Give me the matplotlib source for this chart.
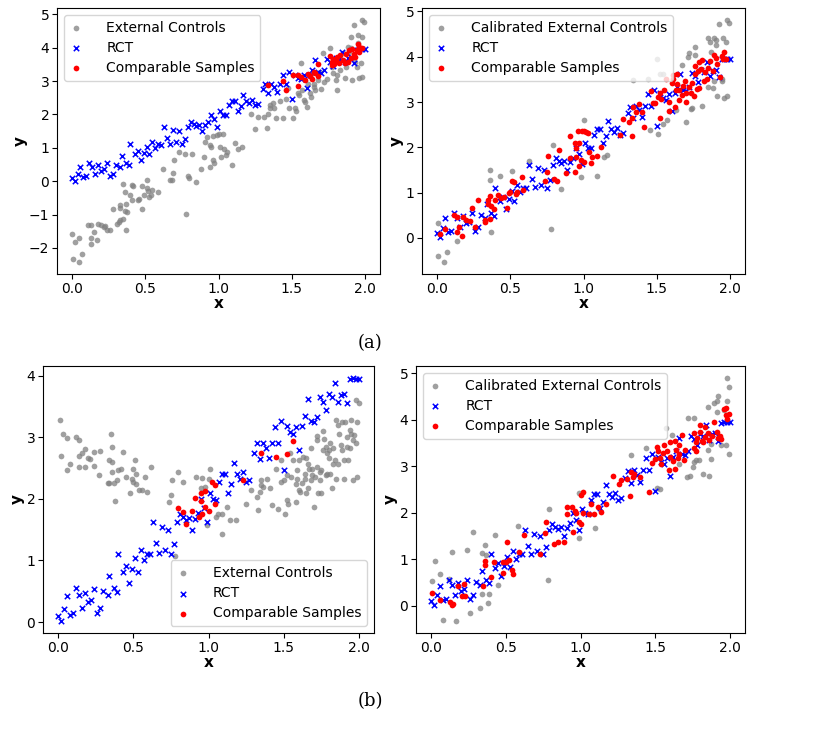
import matplotlib
matplotlib.use("Agg")
import matplotlib.pyplot as plt

# RCT samples (same in every panel)
rct_x = [0.00, 0.02, 0.04, 0.06, 0.08, 0.10, 0.12, 0.14, 0.16, 0.18, 0.20, 0.22, 0.24, 0.26, 0.28,
         0.30, 0.33, 0.34, 0.37, 0.39, 0.40, 0.43, 0.45, 0.47, 0.49, 0.51, 0.53, 0.55, 0.57, 0.59,
         0.61, 0.63, 0.65, 0.67, 0.69, 0.71, 0.73, 0.75, 0.77, 0.79, 0.81, 0.83, 0.85, 0.87, 0.89,
         0.91, 0.93, 0.95, 0.97, 0.99, 1.01, 1.03, 1.05, 1.07, 1.09, 1.11, 1.13, 1.15, 1.17, 1.19,
         1.21, 1.23, 1.25, 1.27, 1.30, 1.32, 1.34, 1.36, 1.38, 1.40, 1.42, 1.44, 1.46, 1.48, 1.50,
         1.52, 1.54, 1.56, 1.58, 1.60, 1.62, 1.64, 1.66, 1.68, 1.70, 1.72, 1.74, 1.76, 1.78, 1.80,
         1.82, 1.84, 1.86, 1.88, 1.90, 1.92, 1.94, 1.96, 1.98, 2.00]
rct_y = [0.10, 0.02, 0.22, 0.43, 0.12, 0.15, 0.56, 0.44, 0.23, 0.48, 0.32, 0.36, 0.54, 0.15, 0.23,
         0.50, 0.44, 0.75, 0.55, 0.49, 1.11, 0.81, 0.91, 0.64, 0.86, 1.04, 0.82, 1.17, 1.01, 1.11,
         1.10, 1.62, 1.29, 1.12, 1.54, 1.17, 1.50, 1.11, 1.27, 1.62, 1.76, 1.70, 1.66, 1.69, 1.49,
         1.67, 1.77, 1.99, 1.85, 1.63, 2.09, 1.99, 1.98, 2.27, 2.40, 2.41, 2.10, 2.24, 2.59, 2.40,
         2.33, 2.43, 2.28, 2.31, 2.75, 2.90, 2.65, 2.91, 2.82, 2.66, 2.91, 3.17, 2.91, 3.26, 2.47,
         3.19, 3.09, 3.05, 3.17, 2.80, 3.19, 3.34, 3.62, 3.26, 3.24, 3.33, 3.65, 3.58, 3.45, 3.70,
         3.66, 3.88, 3.57, 3.69, 3.71, 3.55, 3.94, 3.96, 3.95, 3.95]

# (a) left: external controls
ext_a_x = [0.00, 0.02, 0.01, 0.05, 0.05, 0.07, 0.11, 0.13, 0.13, 0.13, 0.15, 0.17, 0.18, 0.20, 0.22,
           0.23, 0.24, 0.26, 0.28, 0.31, 0.32, 0.33, 0.33, 0.33, 0.35, 0.35, 0.36, 0.36, 0.37, 0.37,
           0.38, 0.40, 0.41, 0.41, 0.42, 0.45, 0.46, 0.48, 0.48, 0.49, 0.51, 0.51, 0.52, 0.53, 0.54,
           0.55, 0.59, 0.62, 0.67, 0.68, 0.69, 0.70, 0.73, 0.77, 0.79, 0.80, 0.82, 0.85, 0.78, 0.88,
           0.90, 0.91, 0.92, 0.94, 0.94, 0.95, 0.96, 0.97, 0.99, 1.00, 0.96, 1.01, 1.02, 1.03, 1.04,
           1.05, 1.06, 1.09, 1.11, 1.13, 1.16, 1.22, 1.25, 1.27, 1.31, 1.33, 1.34, 1.35, 1.35, 1.37,
           1.38, 1.39, 1.42, 1.44, 1.46, 1.47, 1.48, 1.51, 1.52, 1.53, 1.54, 1.55, 1.56, 1.57, 1.58,
           1.59, 1.60, 1.61, 1.62, 1.63, 1.64, 1.65, 1.65, 1.66, 1.68, 1.69, 1.70, 1.71, 1.72, 1.74,
           1.76, 1.77, 1.78, 1.79, 1.80, 1.81, 1.81, 1.82, 1.83, 1.85, 1.86, 1.87, 1.88, 1.89, 1.90,
           1.90, 1.91, 1.92, 1.93, 1.94, 1.95, 1.95, 1.96, 1.97, 1.98, 1.98, 1.98, 1.99]
ext_a_y = [-1.59, -1.82, -2.32, -1.69, -2.42, -2.17, -1.32, -1.32, -1.69, -1.87, -1.52, -1.75, -1.29,
           -1.32, -1.37, -1.34, -1.47, -1.45, -0.82, -1.27, -1.22, -0.72, -1.17, -0.79, -1.12, -0.07,
           -0.32, -0.90, -0.67, -1.45, -0.92, -0.41, -0.12, -0.57, -0.14, -0.57, -0.53, -0.82, -0.15,
           -0.42, 0.04, -0.20, -0.29, -0.47, -0.42, -0.25, -0.32, 0.38, 0.05, 0.03, 0.25, 0.63, 0.89,
           0.83, 0.17, 0.11, 0.81, -0.02, -0.97, 0.38, 0.73, 1.19, 1.33, 1.08, 0.43, 1.03, 0.63, 0.55,
           1.39, 1.41, 1.35, 1.03, 0.73, 1.41, 0.98, 0.78, 0.88, 0.50, 1.15, 0.98, 1.03, 2.01, 1.56,
           1.91, 1.91, 1.58, 2.01, 2.28, 2.18, 2.33, 2.18, 1.88, 2.41, 1.88, 2.46, 2.78, 2.18, 1.88,
           2.18, 2.10, 2.63, 2.58, 3.53, 2.73, 2.43, 2.38, 2.23, 2.90, 2.63, 2.53, 3.23, 2.83, 2.91,
           2.73, 3.03, 3.28, 2.76, 3.83, 2.98, 3.05, 3.98, 3.43, 3.23, 3.63, 3.03, 3.18, 2.73, 3.63,
           3.33, 3.83, 3.08, 3.43, 4.03, 3.88, 4.33, 3.98, 3.03, 4.68, 3.58, 3.43, 4.13, 4.38, 3.08,
           3.53, 4.33, 3.13, 4.83, 4.78]
comp_a_x = [1.34, 1.44, 1.46, 1.51, 1.54, 1.54, 1.56, 1.59, 1.61, 1.62, 1.64, 1.65, 1.66, 1.68, 1.68,
            1.76, 1.77, 1.77, 1.78, 1.79, 1.80, 1.81, 1.82, 1.83, 1.85, 1.86, 1.87, 1.88, 1.89, 1.90,
            1.91, 1.92, 1.93, 1.94, 1.95, 1.96, 1.96, 1.98]
comp_a_y = [2.88, 3.00, 2.73, 3.18, 3.18, 2.85, 3.11, 3.03, 3.21, 3.15, 3.05, 3.28, 3.25, 3.15, 3.51,
            3.75, 3.58, 3.48, 3.65, 3.51, 3.63, 3.73, 3.53, 3.78, 3.63, 3.53, 3.81, 3.58, 3.93, 3.68,
            3.95, 3.81, 3.73, 3.93, 4.11, 4.03, 3.88, 3.98]

# (a) right: calibrated external controls
cal_a_x = [0.01, 0.01, 0.05, 0.07, 0.14, 0.36, 0.36, 0.37, 0.43, 0.51, 0.63, 0.78, 0.79, 0.85, 0.98,
           1.00, 1.09, 1.14, 1.16, 1.34, 1.44, 1.45, 1.50, 1.51, 1.52, 1.54, 1.54, 1.57, 1.63, 1.67,
           1.70, 1.71, 1.72, 1.73, 1.74, 1.76, 1.76, 1.81, 1.85, 1.85, 1.86, 1.87, 1.89, 1.90, 1.90,
           1.91, 1.92, 1.94, 1.95, 1.96, 1.97, 1.98, 1.98, 1.99, 1.94, 1.88, 1.89]
cal_a_y = [0.33, -0.41, -0.53, -0.31, -0.07, 1.50, 1.27, 0.12, 1.37, 1.48, 1.70, 0.20, 2.06, 1.09,
           1.35, 2.61, 1.36, 1.79, 1.82, 3.49, 3.52, 2.39, 3.94, 2.30, 3.61, 2.52, 3.61, 2.61, 2.83,
           3.81, 2.57, 4.00, 4.09, 2.84, 2.87, 4.21, 4.03, 2.92, 4.42, 3.33, 4.33, 4.11, 4.41, 4.36,
           4.27, 3.13, 4.72, 3.46, 4.41, 3.09, 4.33, 4.81, 3.13, 4.74, 3.52, 3.31, 3.47]
comp_ac_x = [0.02, 0.06, 0.12, 0.14, 0.15, 0.14, 0.17, 0.18, 0.20, 0.23, 0.24, 0.26, 0.28, 0.33, 0.33,
             0.35, 0.35, 0.36, 0.36, 0.37, 0.39, 0.40, 0.42, 0.44, 0.46, 0.48, 0.49, 0.50, 0.51, 0.53,
             0.54, 0.55, 0.58, 0.59, 0.74, 0.75, 0.76, 0.80, 0.82, 0.83, 0.88, 0.91, 0.91, 0.94, 0.94,
             0.95, 0.95, 0.96, 0.97, 0.97, 0.98, 0.99, 1.00, 1.00, 1.02, 1.03, 1.04, 1.05, 1.06, 1.09,
             1.12, 1.25, 1.27, 1.33, 1.31, 1.33, 1.34, 1.36, 1.38, 1.40, 1.41, 1.46, 1.47, 1.49, 1.51,
             1.52, 1.52, 1.53, 1.55, 1.56, 1.58, 1.58, 1.60, 1.61, 1.61, 1.62, 1.63, 1.64, 1.64, 1.65,
             1.65, 1.67, 1.68, 1.69, 1.70, 1.70, 1.72, 1.73, 1.74, 1.75, 1.76, 1.76, 1.77, 1.78, 1.79,
             1.79, 1.80, 1.81, 1.82, 1.83, 1.84, 1.85, 1.86, 1.88, 1.89, 1.90, 1.91, 1.93, 1.94, 1.95,
             1.96, 1.97]
comp_ac_y = [0.09, 0.19, 0.50, 0.13, 0.25, 0.46, 0.04, 0.46, 0.39, 0.37, 0.67, 0.24, 0.83, 0.35, 0.40,
             0.84, 0.74, 0.42, 0.92, 0.70, 0.63, 0.84, 0.94, 0.89, 0.90, 0.67, 0.99, 1.01, 1.26, 1.24,
             0.96, 1.01, 1.35, 1.05, 1.26, 1.46, 1.81, 1.31, 1.26, 1.94, 1.44, 1.76, 2.25, 2.10, 1.46,
             1.79, 1.98, 2.35, 1.59, 2.09, 1.73, 2.37, 1.68, 2.35, 2.33, 2.31, 1.90, 1.66, 1.79, 1.81,
             2.01, 2.27, 2.62, 2.24, 2.55, 2.64, 2.90, 2.77, 2.96, 2.77, 2.44, 3.24, 2.98, 2.98, 3.11,
             3.19, 2.64, 3.07, 3.26, 3.50, 3.01, 2.81, 3.42, 3.59, 3.50, 2.90, 3.27, 3.39, 3.63, 3.05,
             3.27, 3.16, 3.36, 3.46, 3.01, 3.21, 3.33, 3.20, 3.42, 3.14, 3.79, 3.63, 3.29, 3.68, 3.88,
             3.31, 3.72, 3.92, 3.46, 3.66, 3.51, 3.76, 3.90, 3.68, 4.03, 3.98, 3.83, 3.56, 4.01, 3.94,
             4.10, 3.96]

# (b) left: external controls
ext_b_x = [0.01, 0.02, 0.03, 0.06, 0.06, 0.08, 0.12, 0.14, 0.14, 0.14, 0.16, 0.18, 0.18, 0.20, 0.21,
           0.24, 0.24, 0.27, 0.28, 0.33, 0.34, 0.34, 0.35, 0.36, 0.36, 0.36, 0.37, 0.38, 0.39, 0.40,
           0.42, 0.43, 0.45, 0.48, 0.49, 0.50, 0.50, 0.51, 0.52, 0.52, 0.54, 0.56, 0.58, 0.59, 0.62,
           0.76, 0.75, 0.74, 0.78, 0.80, 0.83, 0.92, 0.95, 0.96, 0.98, 0.99, 1.00, 1.01, 1.05, 1.06,
           1.09, 1.09, 1.12, 1.14, 1.18, 1.25, 1.28, 1.32, 1.33, 1.34, 1.35, 1.35, 1.36, 1.39, 1.41,
           1.42, 1.45, 1.46, 1.48, 1.48, 1.50, 1.51, 1.52, 1.52, 1.53, 1.54, 1.55, 1.56, 1.58, 1.58,
           1.59, 1.59, 1.60, 1.60, 1.61, 1.62, 1.63, 1.64, 1.64, 1.65, 1.65, 1.66, 1.66, 1.67, 1.68,
           1.68, 1.69, 1.69, 1.70, 1.71, 1.72, 1.72, 1.72, 1.73, 1.74, 1.74, 1.75, 1.75, 1.76, 1.76,
           1.77, 1.78, 1.78, 1.79, 1.79, 1.80, 1.80, 1.81, 1.81, 1.82, 1.83, 1.83, 1.84, 1.85, 1.85,
           1.86, 1.86, 1.87, 1.88, 1.89, 1.89, 1.90, 1.90, 1.91, 1.92, 1.92, 1.93, 1.94, 1.94, 1.95,
           1.95, 1.96, 1.96, 1.97, 1.98, 1.98, 1.99, 1.99, 2.00]
ext_b_y = [3.28, 2.70, 3.05, 2.47, 2.99, 2.56, 3.00, 2.95, 2.69, 2.52, 2.74, 2.51, 2.81, 2.67, 2.64,
           2.76, 2.53, 2.38, 2.78, 2.26, 2.63, 2.25, 3.05, 2.60, 2.85, 2.44, 2.25, 1.97, 2.31, 2.47,
           2.48, 2.76, 2.35, 2.10, 2.33, 2.28, 2.48, 2.63, 2.24, 2.41, 2.15, 2.15, 2.36, 2.11, 2.52,
           2.30, 2.07, 1.95, 1.08, 2.43, 2.28, 2.36, 2.17, 2.34, 2.20, 1.57, 2.33, 2.48, 1.71, 1.76,
           1.76, 1.43, 1.87, 1.65, 1.66, 1.92, 2.15, 2.03, 1.82, 2.11, 2.31, 2.22, 2.20, 2.33, 2.17,
           1.90, 2.48, 1.84, 2.28, 2.63, 2.30, 1.76, 2.38, 1.98, 1.92, 2.74, 2.35, 2.63, 1.95, 2.24,
           2.47, 2.33, 2.14, 2.63, 2.11, 2.26, 2.68, 2.41, 2.33, 2.09, 2.67, 2.57, 2.17, 2.49, 2.30,
           2.82, 2.49, 2.38, 1.87, 2.36, 2.95, 3.02, 2.52, 2.09, 2.44, 2.30, 2.09, 2.47, 3.11, 2.79,
           2.98, 2.38, 2.85, 2.74, 2.41, 2.79, 2.66, 2.90, 2.41, 2.17, 2.82, 2.57, 2.63, 3.28, 2.33,
           2.57, 3.20, 3.06, 2.87, 2.79, 3.25, 2.33, 2.63, 3.25, 3.01, 2.85, 2.63, 3.12, 2.83, 3.28,
           3.06, 2.95, 2.30, 3.04, 2.90, 3.60, 2.36, 3.25, 3.55]
comp_b_x = [0.80, 0.83, 0.85, 0.89, 0.91, 0.94, 0.95, 0.95, 0.96, 0.98, 0.98, 1.00, 1.02, 1.04, 1.04,
            1.23, 1.35, 1.45, 1.52, 1.56]
comp_b_y = [1.86, 1.79, 1.60, 1.80, 2.01, 1.71, 2.09, 1.97, 1.75, 1.87, 2.13, 1.80, 2.27, 2.22, 1.91,
            2.30, 2.75, 2.68, 2.73, 2.94]

# (b) right: calibrated external controls
cal_b_x = [0.01, 0.03, 0.06, 0.08, 0.12, 0.14, 0.17, 0.24, 0.26, 0.28, 0.33, 0.34, 0.34, 0.36, 0.37,
           0.38, 0.39, 0.43, 0.45, 0.58, 0.78, 0.79, 0.99, 0.99, 1.10, 1.34, 1.44, 1.51, 1.53, 1.57,
           1.61, 1.66, 1.71, 1.72, 1.73, 1.75, 1.76, 1.76, 1.77, 1.79, 1.82, 1.85, 1.85, 1.86, 1.87,
           1.87, 1.89, 1.91, 1.91, 1.92, 1.94, 1.97, 1.98, 1.98, 1.99, 1.99, 1.96]
cal_b_y = [0.53, 0.97, 0.69, -0.32, 0.58, 1.15, -0.33, 1.20, -0.17, 1.58, -0.05, 1.13, 0.24, 1.30,
           1.08, 0.06, 0.24, 1.51, 0.44, 1.71, 0.54, 2.08, 1.46, 2.43, 1.68, 3.24, 3.40, 2.54, 2.51,
           3.83, 3.68, 3.05, 2.77, 4.04, 2.79, 2.98, 3.09, 4.05, 3.14, 3.14, 2.84, 4.27, 3.35, 2.80,
           3.16, 3.48, 4.36, 4.41, 4.18, 4.52, 3.45, 3.45, 4.41, 4.90, 3.27, 4.70, 4.21]
comp_bc_x = [0.01, 0.06, 0.13, 0.14, 0.15, 0.18, 0.21, 0.22, 0.23, 0.35, 0.36, 0.36, 0.40, 0.42, 0.48,
             0.48, 0.50, 0.51, 0.52, 0.54, 0.55, 0.59, 0.62, 0.73, 0.76, 0.77, 0.82, 0.85, 0.89, 0.91,
             0.91, 0.94, 0.96, 0.95, 0.97, 0.99, 1.00, 1.00, 1.02, 1.02, 1.06, 1.07, 1.09, 1.12, 1.14,
             1.17, 1.22, 1.26, 1.27, 1.33, 1.31, 1.34, 1.35, 1.36, 1.40, 1.46, 1.48, 1.50, 1.51, 1.52,
             1.53, 1.54, 1.55, 1.56, 1.58, 1.59, 1.60, 1.60, 1.62, 1.63, 1.63, 1.64, 1.65, 1.66, 1.66,
             1.68, 1.69, 1.70, 1.76, 1.76, 1.77, 1.77, 1.78, 1.80, 1.80, 1.81, 1.82, 1.83, 1.83, 1.85,
             1.86, 1.88, 1.89, 1.91, 1.92, 1.93, 1.94, 1.96, 1.97, 1.97, 1.98, 1.99]
comp_bc_y = [0.26, 0.11, 0.08, 0.01, 0.04, 0.42, 0.20, 0.46, 0.20, 0.42, 0.96, 0.87, 0.62, 0.94, 0.70,
             0.94, 0.94, 1.37, 0.99, 0.77, 0.69, 1.15, 1.51, 1.10, 1.56, 1.80, 1.33, 1.37, 1.38, 1.98,
             2.13, 2.12, 2.03, 1.58, 1.99, 1.80, 1.75, 2.39, 2.44, 1.99, 1.98, 2.19, 1.98, 2.13, 2.01,
             2.19, 2.79, 2.61, 2.71, 2.36, 2.73, 2.87, 2.78, 2.84, 2.77, 2.44, 3.07, 3.16, 3.42, 3.32,
             3.18, 3.05, 3.28, 3.47, 3.32, 2.92, 3.19, 3.52, 3.12, 3.55, 2.94, 3.35, 3.18, 3.45, 3.27,
             3.68, 3.14, 3.35, 3.71, 3.40, 3.52, 3.34, 3.62, 3.73, 3.90, 3.55, 3.52, 3.84, 3.64, 3.71,
             3.57, 3.66, 3.95, 3.75, 3.61, 3.66, 3.59, 4.23, 4.26, 4.11, 4.02, 4.13]

W, H = 839, 738
FS = 10
fig = plt.figure(figsize=(W / 100, H / 100), dpi=100)


def make_ax(left, top, right, bottom):
    return fig.add_axes([left / W, 1 - bottom / H, (right - left) / W, (bottom - top) / H])


def draw(ax, gx, gy, glabel, cx, cy, loc):
    ax.scatter(gx, gy, s=17, color='grey', alpha=0.75, linewidths=0, label=glabel)
    ax.scatter(rct_x, rct_y, s=15, marker='x', color='blue', linewidths=1.1, label='RCT')
    ax.scatter(cx, cy, s=17, color='red', linewidths=0, label='Comparable Samples')
    ax.set_xticks([0.0, 0.5, 1.0, 1.5, 2.0])
    ax.set_xlabel('x', fontweight='bold', fontsize=11, labelpad=0)
    ax.set_ylabel('y', fontweight='bold', fontsize=11, labelpad=1)
    ax.tick_params(labelsize=FS, pad=2)
    ax.legend(loc=loc, fontsize=FS, handlelength=1.0, handletextpad=1.65, borderpad=0.4,
              labelspacing=0.45)


ax1 = make_ax(57, 8, 380, 274)
draw(ax1, ext_a_x, ext_a_y, 'External Controls', comp_a_x, comp_a_y, 'upper left')
ax2 = make_ax(422, 8, 745, 274)
draw(ax2, cal_a_x, cal_a_y, 'Calibrated External Controls', comp_ac_x, comp_ac_y, 'upper left')
ax3 = make_ax(43, 366, 374, 633)
draw(ax3, ext_b_x, ext_b_y, 'External Controls', comp_b_x, comp_b_y, 'lower right')
ax3.set_yticks([0, 1, 2, 3, 4])
ax4 = make_ax(416, 366, 745, 633)
draw(ax4, cal_b_x, cal_b_y, 'Calibrated External Controls', comp_bc_x, comp_bc_y, 'upper left')

fig.text(370 / W, 1 - 343 / H, '(a)', family='DejaVu Serif', fontsize=13, ha='center', va='center')
fig.text(370 / W, 1 - 701 / H, '(b)', family='DejaVu Serif', fontsize=13, ha='center', va='center')

fig.savefig('out.png', dpi=100)
